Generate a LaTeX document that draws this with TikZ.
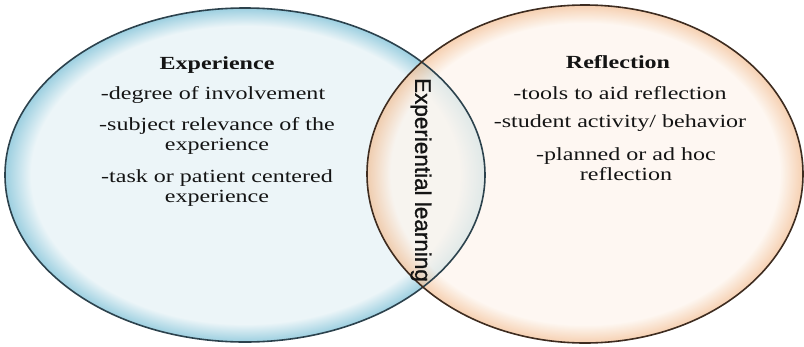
\documentclass[tikz,border=0pt]{standalone}
\usepackage{fontspec}
\usepackage{tikz}
\setmainfont[FakeStretch=1.3]{Liberation Serif}
\newfontfamily\lensfont[FakeBold=1.2]{Liberation Sans}

\definecolor{expfill}{HTML}{ECF5F8}
\definecolor{expglow}{HTML}{9CCFE0}
\definecolor{expline}{HTML}{2C424D}
\definecolor{reffill}{HTML}{FDF4EC}
\definecolor{refglow}{HTML}{F2BC90}
\definecolor{refline}{HTML}{3E2C20}
\definecolor{txt}{HTML}{141414}

% glow near the rim of each set
\pgfdeclareradialshading{expshade}{\pgfpointorigin}{color(0bp)=(expfill); color(22.3bp)=(expfill); color(25bp)=(expglow); color(50bp)=(expglow)}
\pgfdeclareradialshading{refshade}{\pgfpointorigin}{color(0bp)=(reffill); color(22.3bp)=(reffill); color(25bp)=(refglow); color(50bp)=(refglow)}

\tikzset{
  setbody/.style={shading=#1},
  setedge/.style={draw=#1, line width=1.6pt},
  settitle/.style={font=\bfseries\fontsize{18.5}{20}\selectfont, text=txt},
  setitem/.style={font=\fontsize{18.5}{20}\selectfont, text=txt, align=center}
}

\begin{document}
\begin{tikzpicture}[x=1pt, y=-1pt]
\useasboundingbox (0,0) rectangle (804,346);

% centres of the two sets
\coordinate (expc) at (245,175);
\coordinate (refc) at (585,174);

% Fill the sets, the right one see-through
\path[setbody=expshade] (expc) ellipse [x radius=240, y radius=167];
\path[setbody=refshade, fill opacity=0.7] (refc) ellipse [x radius=218, y radius=169];

% Outlines on top
\draw[setedge=expline] (expc) ellipse [x radius=240, y radius=167];
\draw[setedge=refline] (refc) ellipse [x radius=218, y radius=169];

% Experience
\node[settitle] (exptitle) at (217,65) {Experience};
\node[setitem] (exp1) at (213,95) {-degree of involvement};
\node[setitem] (exp2) at (217,136) {-subject relevance of the\\experience};
\node[setitem] (exp3) at (217,188) {-task or patient centered\\experience};

% Reflection
\node[settitle] (reftitle) at (618,62) {Reflection};
\node[setitem] (ref1) at (620,93) {-tools to aid reflection};
\node[setitem] (ref2) at (620,123) {-student activity/ behavior};
\node[setitem] (ref3) at (626,164) {-planned or ad hoc\\reflection};

% overlap label
\node[rotate=-90, font=\lensfont\fontsize{22.5}{26}\selectfont, text=txt] (lens) at (421,180) {Experiential learning};

\end{tikzpicture}
\end{document}
